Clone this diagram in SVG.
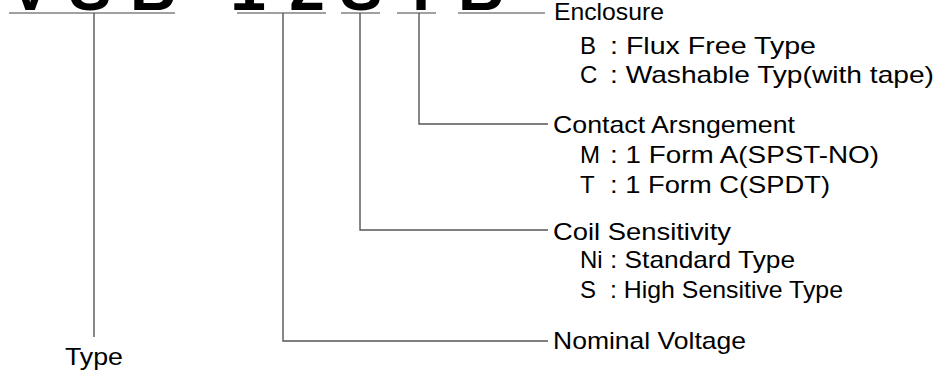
<svg xmlns="http://www.w3.org/2000/svg" width="940" height="372" viewBox="0 0 940 372">
<style>
.big{font-family:"Liberation Sans",Arial,sans-serif;font-weight:bold;font-size:64px;fill:#000;text-anchor:middle}
.t{font-family:"Liberation Sans",Arial,sans-serif;font-size:24px;fill:#000}
.s{font-family:"Liberation Sans",Arial,sans-serif;font-size:24px;fill:#000}
.bar{stroke:#808080;stroke-width:1.6;fill:none}
.c{stroke:#555;stroke-width:1.4;fill:none}
</style>
<rect width="940" height="372" fill="#fff"/>
<g id="code">
<text class="big" x="30" y="10">V</text>
<text class="big" x="90" y="10">S</text>
<text class="big" x="153" y="10">B</text>
<text class="big" x="248" y="10">1</text>
<text class="big" x="307" y="10">2</text>
<text class="big" x="361" y="10">S</text>
<text class="big" x="421" y="10">T</text>
<text class="big" x="481" y="10">B</text>
</g>
<g id="connectors">
<line class="bar" x1="9" y1="13" x2="175" y2="13"/>
<line class="bar" x1="237" y1="13" x2="326" y2="13"/>
<line class="bar" x1="341" y1="13" x2="380" y2="13"/>
<line class="bar" x1="397" y1="13" x2="436" y2="13"/>
<line class="bar" x1="458" y1="13" x2="545" y2="13"/>
<polyline class="c" points="94,13 94,337"/>
<polyline class="c" points="283,13 283,341 548,341"/>
<polyline class="c" points="360,13 360,230 548,230"/>
<polyline class="c" points="419,13 419,124 548,124"/>
</g>
<g id="type">
<text class="t" x="65" y="365" textLength="58" lengthAdjust="spacingAndGlyphs">Type</text>
</g>
<g id="enclosure">
<text class="t" x="554" y="20" textLength="110" lengthAdjust="spacingAndGlyphs">Enclosure</text>
<text class="s" x="580" y="54">B</text>
<text class="s" x="610" y="54" textLength="206" lengthAdjust="spacingAndGlyphs">: Flux Free Type</text>
<text class="s" x="580" y="83">C</text>
<text class="s" x="610" y="83" textLength="324" lengthAdjust="spacingAndGlyphs">: Washable Typ(with tape)</text>
</g>
<g id="contact">
<text class="t" x="553" y="133" textLength="242" lengthAdjust="spacingAndGlyphs">Contact Arsngement</text>
<text class="s" x="580" y="163">M</text>
<text class="s" x="610" y="163" textLength="269" lengthAdjust="spacingAndGlyphs">: 1 Form A(SPST-NO)</text>
<text class="s" x="580" y="193">T</text>
<text class="s" x="610" y="193" textLength="220" lengthAdjust="spacingAndGlyphs">: 1 Form C(SPDT)</text>
</g>
<g id="coil">
<text class="t" x="553" y="240" textLength="178" lengthAdjust="spacingAndGlyphs">Coil Sensitivity</text>
<text class="s" x="580" y="268">Ni</text>
<text class="s" x="610" y="268" textLength="185" lengthAdjust="spacingAndGlyphs">: Standard Type</text>
<text class="s" x="580" y="298">S</text>
<text class="s" x="610" y="298" textLength="233" lengthAdjust="spacingAndGlyphs">: High Sensitive Type</text>
</g>
<g id="voltage">
<text class="t" x="553" y="349" textLength="193" lengthAdjust="spacingAndGlyphs">Nominal Voltage</text>
</g>
</svg>
